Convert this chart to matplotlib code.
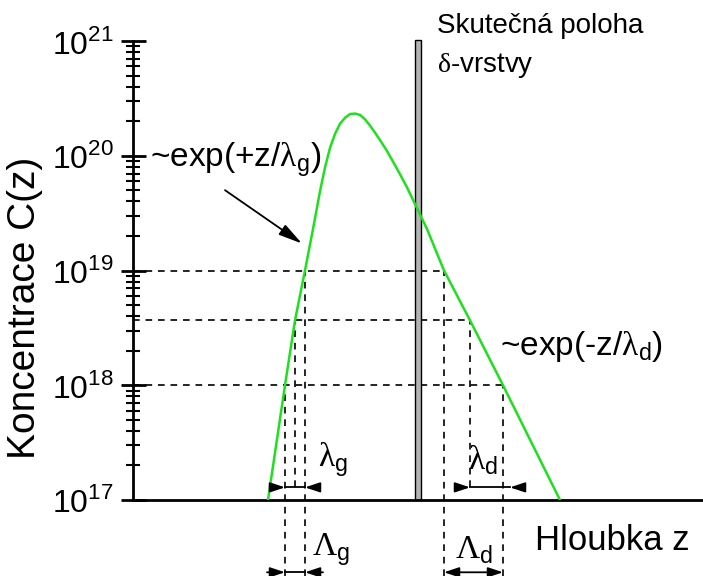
import numpy as np
import matplotlib
matplotlib.use("Agg")
import matplotlib.pyplot as plt

plt.rcParams['font.family'] = ['Liberation Sans', 'DejaVu Sans']
plt.rcParams['mathtext.fontset'] = 'custom'
plt.rcParams['mathtext.rm'] = 'Liberation Sans'
plt.rcParams['mathtext.sf'] = 'Liberation Serif'

# depth profile (z in arbitrary units, concentration in cm^-3)
z = [135, 152, 162, 172, 180, 187, 192, 197, 202, 207, 212, 217, 222, 227,
     232, 237, 242, 247, 254, 260, 267, 274, 282, 294, 311, 337, 370, 427]
C = [1e17, 1e18, 3.68e18, 1e19, 2.3e19, 4.9e19, 7.9e19, 1.17e20, 1.55e20,
     1.9e20, 2.14e20, 2.31e20, 2.33e20, 2.27e20, 2.08e20, 1.83e20, 1.59e20,
     1.37e20, 1.1e20, 8.9e19, 6.9e19, 5.3e19, 3.8e19, 2.3e19, 1e19, 3.68e18,
     1e18, 1e17]

# reference levels: 1e19, 1e19/e, 1e18 and where the profile crosses them
C_ref = [1e19, 3.68e18, 1e18]
z_g = [172, 162, 152]
z_d = [311, 337, 370]

delta_z = [282, 288]   # real position of the delta layer

yticks = [1e17, 1e18, 1e19, 1e20, 1e21]
ytick_labels = [r'$10^{17}$', r'$10^{18}$', r'$10^{19}$', r'$10^{20}$', r'$10^{21}$']

W, H = 703, 576
fig = plt.figure(figsize=(W / 100, H / 100), dpi=100)
ax = fig.add_axes([133 / W, 76 / H, 570 / W, 459 / H])
ax.set_yscale('log')
ax.set_xlim(0, 570)
ax.set_ylim(1e17, 1e21)

ax.spines['top'].set_visible(False)
ax.spines['right'].set_visible(False)
ax.spines['left'].set_linewidth(2)
ax.spines['bottom'].set_linewidth(2)
ax.set_xticks([])
ax.set_yticks(yticks)
ax.set_yticklabels(ytick_labels)
ax.tick_params(axis='y', which='major', direction='inout', length=18, width=2,
               labelsize=23, pad=5)
ax.tick_params(axis='y', which='minor', direction='inout', length=10, width=1.5)

dash = dict(color='black', lw=1.2, ls=(0, (4, 3.5)), clip_on=False, zorder=1)
y_low = 10 ** 16.34     # below the axis
y_lam = 10 ** 17.11     # level of the small lambda arrows
y_Lam = 10 ** 16.37     # level of the Lambda arrows

for i, c in enumerate(C_ref):
    ax.plot([0, z_d[i]], [c, c], **dash)
    bottom = y_lam if i == 1 else y_low
    ax.plot([z_g[i], z_g[i]], [bottom, c], **dash)
    ax.plot([z_d[i], z_d[i]], [bottom, c], **dash)

ax.axvspan(delta_z[0], delta_z[1], ymin=0, ymax=1.002, fc='#b4b4b4', ec='black',
           lw=1, zorder=2, clip_on=False)

ax.plot(z, C, color='#1ee01e', lw=1.8, zorder=3, solid_joinstyle='round')

head = dict(arrowstyle='-|>,head_length=0.9,head_width=0.3', color='black',
            lw=1.3, shrinkA=0, shrinkB=0, mutation_scale=10)


def inward(x1, x2, y, out=14):
    ax.plot([x1, x2], [y, y], color='black', lw=1.3, clip_on=False)
    ax.annotate('', xy=(x1, y), xytext=(x1 - out, y), arrowprops=head,
                annotation_clip=False)
    ax.annotate('', xy=(x2, y), xytext=(x2 + out, y), arrowprops=head,
                annotation_clip=False)


inward(z_g[2], z_g[0], y_lam, out=13)
inward(z_d[1], z_d[2] + 7, y_lam, out=13)
inward(z_g[2], z_g[0], y_Lam, out=18)
ax.annotate('', xy=(z_d[2], y_Lam), xytext=(z_d[0], y_Lam),
            arrowprops=dict(arrowstyle='<|-|>,head_length=0.9,head_width=0.3',
                            color='black', lw=1.3, shrinkA=0, shrinkB=0,
                            mutation_scale=10),
            annotation_clip=False)

# arrow pointing at the rising edge
ax.annotate('', xy=(169, 10 ** 19.235), xytext=(92, 10 ** 19.70),
            arrowprops=dict(arrowstyle='-|>,head_length=1.2,head_width=0.3',
                            color='black', lw=1.3, shrinkA=0, shrinkB=0,
                            mutation_scale=12))


def ftxt(x, y, s, size=24, **kw):
    fig.text(x / W, 1 - y / H, s, fontsize=size, **kw)


ftxt(150, 160, r'~exp(+z/$\mathsf{\lambda}_{\mathrm{g}}$)', va='center')
ftxt(500, 347, r'~exp(-z/$\mathsf{\lambda}_{\mathrm{d}}$)', va='center')
ftxt(318, 460, r'$\mathsf{\lambda}_{\mathrm{g}}$', va='center')
ftxt(468, 460, r'$\mathsf{\lambda}_{\mathrm{d}}$', va='center')
ftxt(312, 550, r'$\mathsf{\Lambda}_{\mathrm{g}}$', va='center')
ftxt(455, 550, r'$\mathsf{\Lambda}_{\mathrm{d}}$', va='center')
ftxt(535, 540, 'Hloubka z', size=25, va='center')
ftxt(437, 33, 'Skutečná poloha', size=20, va='baseline')
ftxt(437, 72, r'$\mathsf{\delta}$-vrstvy', size=20, va='baseline')
ftxt(25, 308, 'Koncentrace C(z)', size=28, rotation=90, ha='center', va='center')

fig.savefig('out.png', dpi=100)
